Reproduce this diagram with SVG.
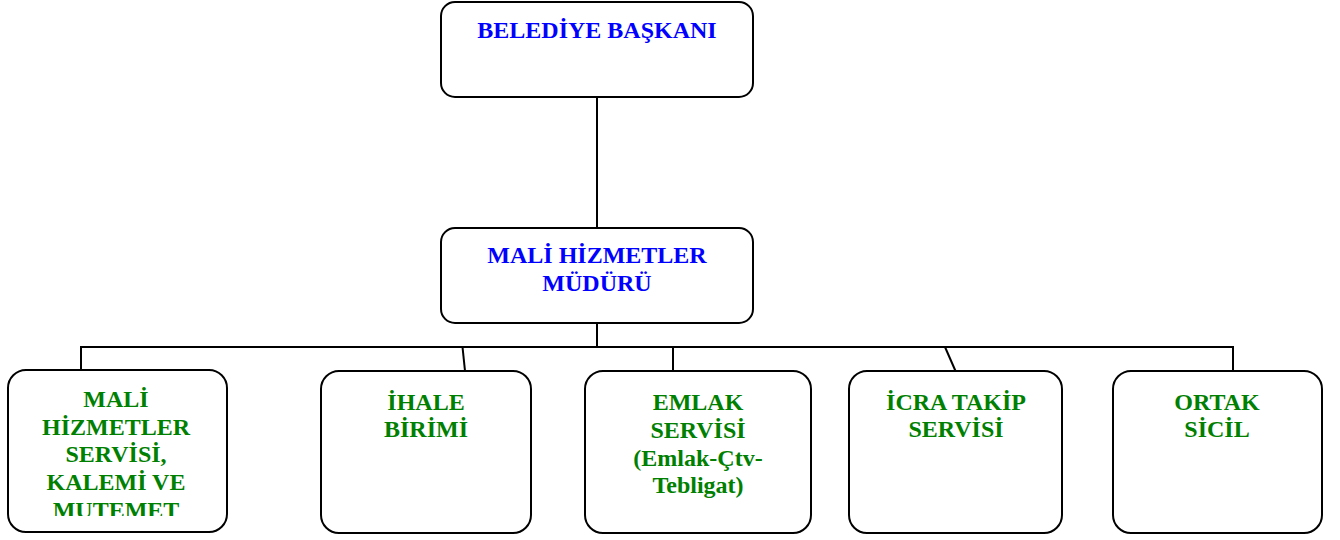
<svg xmlns="http://www.w3.org/2000/svg" width="1340" height="540" viewBox="0 0 1340 540">
  <defs>
    <style>
      .box { fill: #ffffff; stroke: #000000; stroke-width: 2; }
      .conn { stroke: #000000; stroke-width: 2; fill: none; }
      .t { font-family: "Liberation Serif", "Times New Roman", serif; font-weight: bold; font-size: 24px; text-anchor: middle; }
      .blue { fill: #0000ff; }
      .green { fill: #008000; }
    </style>
    <clipPath id="clip1">
      <rect x="8" y="370" width="219" height="146"/>
    </clipPath>
  </defs>
  <rect width="1340" height="540" fill="#ffffff"/>

  <g id="connectors">
    <line class="conn" x1="597" y1="97" x2="597" y2="228"/>
    <line class="conn" x1="597" y1="323" x2="597" y2="348"/>
    <polyline class="conn" points="81,370 81,347 1233,347 1233,371"/>
    <line class="conn" x1="462.5" y1="347" x2="465" y2="371"/>
    <line class="conn" x1="673" y1="347" x2="673" y2="371"/>
    <line class="conn" x1="945" y1="347" x2="955.5" y2="371"/>
  </g>

  <g id="belediye-baskani">
    <rect class="box" x="441" y="2" width="312" height="95" rx="14" ry="14"/>
    <text class="t blue" x="597" y="38">BELEDİYE BAŞKANI</text>
  </g>

  <g id="mali-hizmetler-muduru">
    <rect class="box" x="441" y="228" width="312" height="95" rx="14" ry="14"/>
    <text class="t blue" x="597" y="263">MALİ HİZMETLER</text>
    <text class="t blue" x="597" y="291">MÜDÜRÜ</text>
  </g>

  <g id="mali-hizmetler-servisi">
    <rect class="box" x="8" y="370" width="219" height="162" rx="18" ry="18"/>
    <g clip-path="url(#clip1)">
      <text class="t green" x="116" y="407">MALİ</text>
      <text class="t green" x="116" y="435">HİZMETLER</text>
      <text class="t green" x="116" y="462">SERVİSİ,</text>
      <text class="t green" x="116" y="490">KALEMİ VE</text>
      <text class="t green" x="116" y="518">MUTEMET</text>
    </g>
  </g>

  <g id="ihale-birimi">
    <rect class="box" x="321" y="371" width="210" height="162" rx="18" ry="18"/>
    <text class="t green" x="426" y="410">İHALE</text>
    <text class="t green" x="426" y="437">BİRİMİ</text>
  </g>

  <g id="emlak-servisi">
    <rect class="box" x="585" y="371" width="226" height="162" rx="18" ry="18"/>
    <text class="t green" x="698" y="410">EMLAK</text>
    <text class="t green" x="698" y="438">SERVİSİ</text>
    <text class="t green" x="698" y="466">(Emlak-Çtv-</text>
    <text class="t green" x="698" y="493">Tebligat)</text>
  </g>

  <g id="icra-takip-servisi">
    <rect class="box" x="849" y="371" width="213" height="162" rx="18" ry="18"/>
    <text class="t green" x="956" y="410">İCRA TAKİP</text>
    <text class="t green" x="956" y="437">SERVİSİ</text>
  </g>

  <g id="ortak-sicil">
    <rect class="box" x="1113" y="371" width="209" height="162" rx="18" ry="18"/>
    <text class="t green" x="1217" y="410">ORTAK</text>
    <text class="t green" x="1217" y="437">SİCİL</text>
  </g>
</svg>
